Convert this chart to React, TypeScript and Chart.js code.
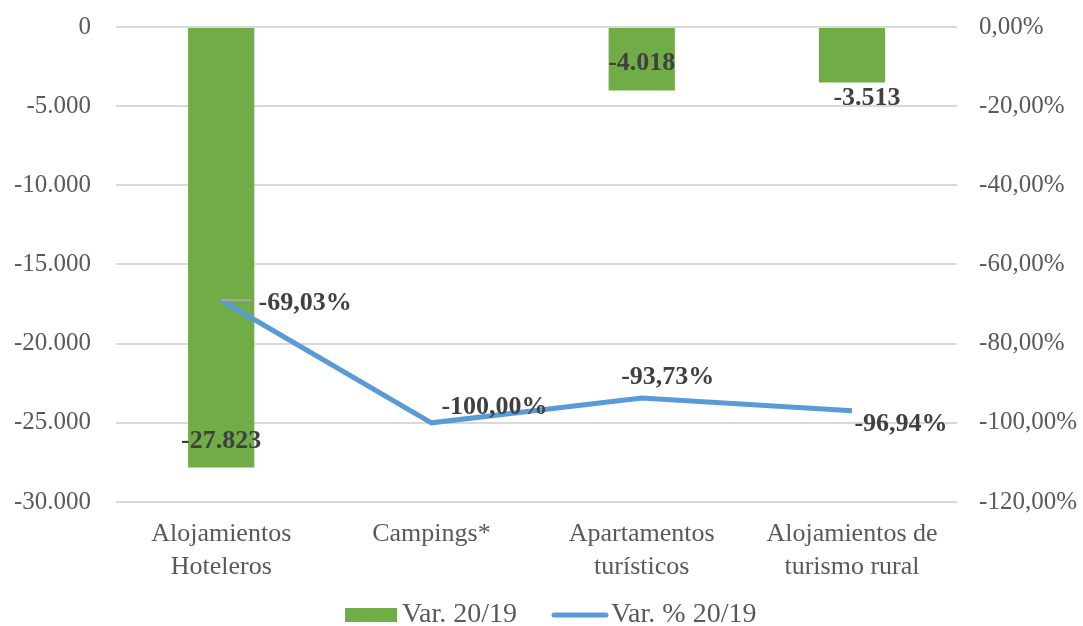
import { useEffect, useRef } from "react";
import { Chart, registerables } from "chart.js";

Chart.register(...registerables);

const categories: string[][] = [
  ["Alojamientos", "Hoteleros"],
  ["Campings*"],
  ["Apartamentos", "turísticos"],
  ["Alojamientos de", "turismo rural"],
];
const varAbs: (number | null)[] = [-27823, null, -4018, -3513];
const varPct: number[] = [-69.03, -100.0, -93.73, -96.94];
const seriesNames = ["Var. 20/19", "Var. % 20/19"];

const FONT = "'Liberation Serif', 'Times New Roman', serif";
const GREEN = "#70AD47";
const BLUE = "#5B9BD5";
const TICK = "#595959";
const LABEL = "#404040";

// label offsets (styling) relative to the drawn element
const barLabelOffsets: [number, number][] = [[0, -26], [0, 0], [0, -27], [15, 16]];
const lineLabelOffsets: [number, number][] = [[84, 3], [63, -16], [26, -21], [49, 14]];

const fmtThousands = (v: number) => {
  const neg = v < 0;
  const s = Math.round(Math.abs(v)).toString().replace(/\B(?=(\d{3})+(?!\d))/g, ".");
  return (neg ? "-" : "") + s;
};
const fmtPct = (v: number) => {
  const s = Math.abs(v).toFixed(2).replace(".", ",");
  return (v < 0 && Math.abs(v) > 0.0001 ? "-" : "") + s + "%";
};

const labelPlugin = {
  id: "valueLabels",
  afterDatasetsDraw(chart: any) {
    const ctx = chart.ctx as CanvasRenderingContext2D;
    ctx.save();
    const lineMeta = chart.getDatasetMeta(1);
    const p0 = lineMeta.data[0];
    if (p0) {
      ctx.strokeStyle = "#a6a6a6";
      ctx.lineWidth = 2;
      ctx.beginPath();
      ctx.moveTo(p0.x, p0.y);
      ctx.lineTo(p0.x + 30, p0.y);
      ctx.stroke();
    }
    ctx.font = `bold 26px ${FONT}`;
    ctx.fillStyle = LABEL;
    ctx.textAlign = "center";
    ctx.textBaseline = "middle";
    const barMeta = chart.getDatasetMeta(0);
    barMeta.data.forEach((el: any, i: number) => {
      const v = varAbs[i];
      if (v == null) return;
      const [dx, dy] = barLabelOffsets[i];
      ctx.fillText(fmtThousands(v), el.x + dx, el.y + dy);
    });
    lineMeta.data.forEach((el: any, i: number) => {
      const [dx, dy] = lineLabelOffsets[i];
      ctx.fillText(fmtPct(varPct[i]), el.x + dx, el.y + dy);
    });
    ctx.restore();
  },
  afterDraw(chart: any) {
    // legend
    const ctx = chart.ctx as CanvasRenderingContext2D;
    ctx.save();
    ctx.font = `28px ${FONT}`;
    ctx.textBaseline = "alphabetic";
    ctx.textAlign = "left";
    const boxW = 52, boxH = 14, lineW = 56;
    const baseline = 635;
    const midY = 628;
    let x = 337;
    ctx.fillStyle = GREEN;
    ctx.fillRect(x, midY - boxH / 2, boxW, boxH);
    ctx.fillStyle = TICK;
    ctx.fillText(seriesNames[0], x + boxW + 5, baseline);
    x = 544;
    ctx.strokeStyle = BLUE;
    ctx.lineWidth = 5;
    ctx.lineCap = "round";
    ctx.beginPath();
    ctx.moveTo(x + 2, midY);
    ctx.lineTo(x + lineW - 2, midY);
    ctx.stroke();
    ctx.fillText(seriesNames[1], x + lineW + 3, baseline);
    ctx.restore();
  },
};

export default function App() {
  const ref = useRef<HTMLCanvasElement | null>(null);
  useEffect(() => {
    if (!ref.current) return;
    const chart = new Chart(ref.current, {
      type: "bar",
      data: {
        labels: categories,
        datasets: [
          {
            type: "bar",
            label: seriesNames[0],
            data: varAbs,
            backgroundColor: GREEN,
            borderWidth: 0,
            yAxisID: "y",
            barPercentage: 0.315,
            categoryPercentage: 1,
            order: 1,
          } as any,
          {
            type: "line",
            label: seriesNames[1],
            data: varPct,
            borderColor: BLUE,
            backgroundColor: BLUE,
            borderWidth: 5,
            pointRadius: 0,
            tension: 0,
            yAxisID: "y1",
            order: 0,
          } as any,
        ],
      },
      options: {
        responsive: false,
        animation: false,
        layout: { padding: { top: -16, left: -19, right: -16, bottom: 26 } },
        plugins: {
          tooltip: { enabled: false },
          legend: { display: false },
        },
        scales: {
          x: {
            grid: { display: false, drawTicks: false },
            border: { display: false },
            ticks: {
              color: TICK,
              font: { family: FONT, size: 26, lineHeight: 1.27 },
              padding: 16,
              maxRotation: 0,
              autoSkip: false,
            },
          },
          y: {
            position: "left",
            min: -30000,
            max: 0,
            grid: { color: "#d9d9d9", lineWidth: 2, drawTicks: false },
            border: { display: false },
            ticks: {
              stepSize: 5000,
              color: TICK,
              font: { family: FONT, size: 25 },
              padding: 25,
              callback: (v: any) => fmtThousands(Number(v)),
            },
          },
          y1: {
            position: "right",
            min: -120,
            max: 0,
            grid: { display: false, drawTicks: false },
            border: { display: false },
            ticks: {
              stepSize: 20,
              color: TICK,
              font: { family: FONT, size: 25 },
              padding: 22,
              callback: (v: any) => fmtPct(Number(v)),
            },
          },
        },
      },
      plugins: [labelPlugin],
    });
    return () => chart.destroy();
  }, []);
  return (
    <div
      style={{
        position: "fixed",
        left: 0,
        top: 0,
        width: 1083,
        height: 626,
        overflow: "hidden",
        background: "#fff",
      }}
    >
      <canvas
        ref={ref}
        width={1075}
        height={639}
        style={{ display: "block", position: "absolute", left: 8, top: -13 }}
      />
    </div>
  );
}
